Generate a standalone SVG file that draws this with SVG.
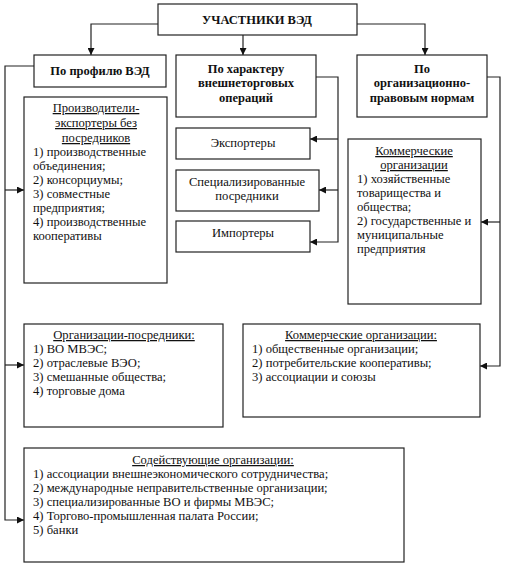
<svg xmlns="http://www.w3.org/2000/svg" width="511" height="576" viewBox="0 0 511 576">
<style>
.box{fill:#fff;stroke:#222;stroke-width:1.2}
.t{font-family:"Liberation Serif","Times New Roman",serif;font-size:12.6px;fill:#111}
.b{font-weight:bold;font-size:12.5px}
.c{text-anchor:middle}
.u{text-decoration:underline}
.ln{fill:none;stroke:#222;stroke-width:1.2}
</style>
<defs>
<marker id="ah" viewBox="0 0 10 10" refX="10" refY="5" markerWidth="7" markerHeight="7" markerUnits="userSpaceOnUse" orient="auto">
<path d="M0,0 L10,5 L0,10 z" fill="#111"/>
</marker>
</defs>
<rect width="511" height="576" fill="#fff"/>
<g id="connectors">
<path class="ln" d="M158,24 H91 V55" marker-end="url(#ah)"/>
<path class="ln" d="M243,35 V55" marker-end="url(#ah)"/>
<path class="ln" d="M357,24 H425 V55" marker-end="url(#ah)"/>
<path class="ln" d="M34,66 H5 V520 H24" marker-end="url(#ah)"/>
<path class="ln" d="M5,190 H24" marker-end="url(#ah)"/>
<path class="ln" d="M5,365 H24" marker-end="url(#ah)"/>
<path class="ln" d="M316,77 H338 V242 H310" marker-end="url(#ah)"/>
<path class="ln" d="M338,139 H310" marker-end="url(#ah)"/>
<path class="ln" d="M338,190 H319" marker-end="url(#ah)"/>
<path class="ln" d="M487,77 H500 V366 H480" marker-end="url(#ah)"/>
<path class="ln" d="M500,222 H481" marker-end="url(#ah)"/>
</g>
<g id="root">
<rect class="box" x="158" y="4" width="199" height="31"/>
<text class="t b c" x="257" y="24">УЧАСТНИКИ ВЭД</text>
</g>
<g id="profile">
<rect class="box" x="34" y="55" width="132" height="32"/>
<text class="t b c" x="100" y="75">По профилю ВЭД</text>
</g>
<g id="character">
<rect class="box" x="176" y="55" width="140" height="62"/>
<text class="t b c" x="246" y="73">По характеру</text>
<text class="t b c" x="246" y="87">внешнеторговых</text>
<text class="t b c" x="246" y="102">операций</text>
</g>
<g id="legal">
<rect class="box" x="357" y="55" width="130" height="62"/>
<text class="t b c" x="422" y="73">По</text>
<text class="t b c" x="422" y="87">организационно-</text>
<text class="t b c" x="422" y="102">правовым нормам</text>
</g>
<g id="producers">
<rect class="box" x="24" y="97" width="143" height="186"/>
<text class="t c u" x="96" y="112">Производители-</text>
<text class="t c u" x="96" y="127">экспортеры без</text>
<text class="t c u" x="96" y="142">посредников</text>
<text class="t" x="33" y="156">1) производственные</text>
<text class="t" x="33" y="170">объединения;</text>
<text class="t" x="33" y="184">2) консорциумы;</text>
<text class="t" x="33" y="198">3) совместные</text>
<text class="t" x="33" y="212">предприятия;</text>
<text class="t" x="33" y="226">4) производственные</text>
<text class="t" x="33" y="240">кооперативы</text>
</g>
<g id="exporters">
<rect class="box" x="176" y="128" width="134" height="31"/>
<text class="t c" x="243" y="147">Экспортеры</text>
</g>
<g id="specialized">
<rect class="box" x="176" y="170" width="143" height="41"/>
<text class="t c" x="247" y="186">Специализированные</text>
<text class="t c" x="247" y="200">посредники</text>
</g>
<g id="importers">
<rect class="box" x="176" y="221" width="134" height="31"/>
<text class="t c" x="243" y="237">Импортеры</text>
</g>
<g id="commercial1">
<rect class="box" x="348" y="139" width="133" height="165"/>
<text class="t c u" x="414" y="155">Коммерческие</text>
<text class="t c u" x="414" y="169">организации</text>
<text class="t" x="357" y="183">1) хозяйственные</text>
<text class="t" x="357" y="197">товарищества и</text>
<text class="t" x="357" y="211">общества;</text>
<text class="t" x="357" y="225">2) государственные и</text>
<text class="t" x="357" y="239">муниципальные</text>
<text class="t" x="357" y="253">предприятия</text>
</g>
<g id="intermediaries">
<rect class="box" x="24" y="324" width="199" height="103"/>
<text class="t c u" x="124" y="339">Организации-посредники:</text>
<text class="t" x="33" y="353">1) ВО МВЭС;</text>
<text class="t" x="33" y="367">2) отраслевые ВЭО;</text>
<text class="t" x="33" y="381">3) смешанные общества;</text>
<text class="t" x="33" y="395">4) торговые дома</text>
</g>
<g id="commercial2">
<rect class="box" x="243" y="324" width="237" height="93"/>
<text class="t c u" x="361" y="339">Коммерческие организации:</text>
<text class="t" x="252" y="353">1) общественные организации;</text>
<text class="t" x="252" y="367">2) потребительские кооперативы;</text>
<text class="t" x="252" y="381">3) ассоциации и союзы</text>
</g>
<g id="assisting">
<rect class="box" x="24" y="448" width="380" height="114"/>
<text class="t c u" x="213" y="464">Содействующие организации:</text>
<text class="t" x="33" y="478">1) ассоциации внешнеэкономического сотрудничества;</text>
<text class="t" x="33" y="492">2) международные неправительственные организации;</text>
<text class="t" x="33" y="506">3) специализированные ВО и фирмы МВЭС;</text>
<text class="t" x="33" y="520">4) Торгово-промышленная палата России;</text>
<text class="t" x="33" y="534">5) банки</text>
</g>
</svg>
